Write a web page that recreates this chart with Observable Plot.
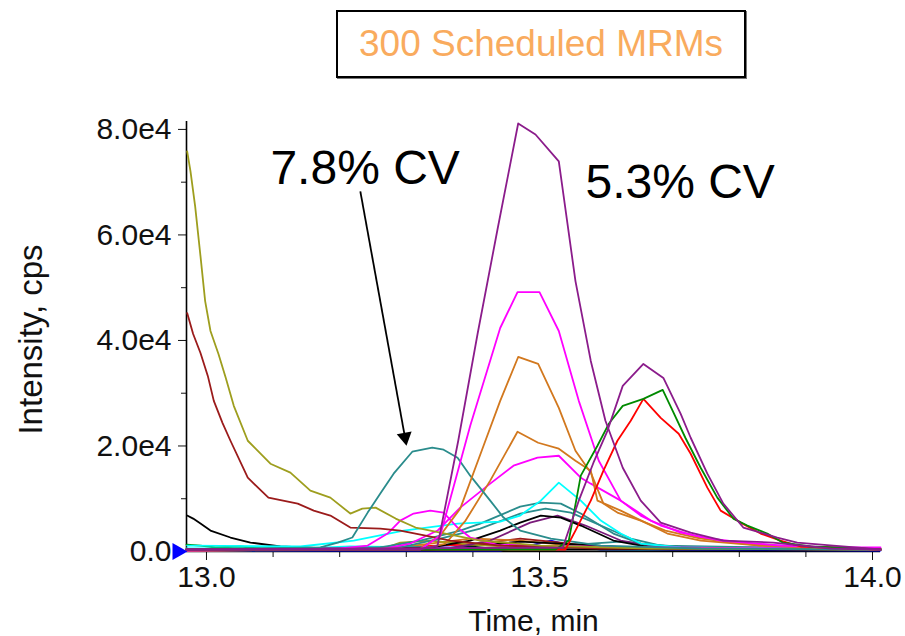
<!DOCTYPE html>
<html><head><meta charset="utf-8">
<script src="https://cdn.jsdelivr.net/npm/d3@7"></script>
<script src="https://cdn.jsdelivr.net/npm/@observablehq/plot@0.6"></script>
<style>
body{margin:0;background:#fff;}
#wrap{position:relative;width:905px;height:636px;overflow:hidden;}
#title{position:absolute;left:336px;top:10px;width:406px;height:64px;border:2px solid #000;box-shadow:1px 1px 0 #777;
  font-family:"Liberation Sans",Arial,sans-serif;font-size:37px;color:#F9AB5E;display:flex;align-items:center;justify-content:center;background:#fff;}
#chart{position:absolute;left:0;top:90px;}
</style></head>
<body><div id="wrap"><div id="title">300 Scheduled MRMs</div><div id="chart"></div></div>
<script>
// ---- data: [time (min), intensity (cps)] ----
const purpleA = [[12.970,380],[13.321,380],[13.347,1130],[13.378,20990],[13.407,41220],[13.437,61080],[13.468,81120],[13.494,79040],[13.529,73940],[13.554,51250],[13.577,36120],[13.599,24770],[13.625,15880],[13.652,9640],[13.682,5480],[13.727,3590],[13.776,2080],[13.851,1700],[13.937,570],[14.012,380]];
const magentaA = [[12.970,190],[13.321,380],[13.351,3030],[13.396,23830],[13.441,42360],[13.467,49170],[13.500,49170],[13.529,41790],[13.559,28550],[13.589,17210],[13.622,9640],[13.667,5860],[13.712,3590],[13.772,2080],[13.862,1130],[14.012,380]];
const orangeA = [[12.970,190],[13.321,570],[13.351,3030],[13.381,8130],[13.416,20040],[13.441,28550],[13.468,36870],[13.498,35550],[13.529,27230],[13.554,19100],[13.577,14940],[13.596,9080],[13.617,7370],[13.652,5860],[13.689,3970],[13.742,2460],[13.832,1130],[14.012,380]];
const orangeB = [[12.970,190],[13.321,380],[13.359,1510],[13.389,5860],[13.426,13430],[13.467,22690],[13.498,20610],[13.529,19480],[13.554,17210],[13.577,15320],[13.587,9640],[13.622,7750],[13.662,5290],[13.692,3400],[13.742,2080],[13.832,1130],[14.012,380]];
const magentaB = [[12.970,380],[13.261,380],[13.306,1510],[13.347,3970],[13.381,8320],[13.426,12860],[13.461,16260],[13.497,17780],[13.529,18150],[13.562,13990],[13.577,12860],[13.622,9640],[13.652,6810],[13.682,4920],[13.742,2650],[13.832,1320],[14.012,380]];
const tealA = [[12.970,380],[13.171,760],[13.197,1700],[13.219,2650],[13.242,7370],[13.261,10970],[13.281,14750],[13.309,18910],[13.339,19670],[13.356,19290],[13.377,17780],[13.396,14370],[13.426,9640],[13.446,6430],[13.471,3970],[13.517,2460],[13.592,1130],[13.742,570],[14.012,380]];
const oliveA = [[12.971,75830],[12.976,72050],[12.983,65430],[12.991,55970],[12.998,47460],[13.006,41790],[13.018,37440],[13.029,32900],[13.041,27610],[13.062,20990],[13.096,16640],[13.126,14940],[13.156,11540],[13.186,10210],[13.216,7190],[13.234,8130],[13.254,8320],[13.284,6240],[13.314,4540],[13.351,3590],[13.411,2080],[13.502,1130],[13.667,570],[14.012,380]];
const darkRedA = [[12.971,45190],[12.980,41220],[12.991,37630],[13.002,33280],[13.011,28550],[13.024,24390],[13.036,20990],[13.062,13990],[13.093,10210],[13.137,9080],[13.161,7750],[13.186,6810],[13.216,4540],[13.261,4350],[13.291,3970],[13.329,3030],[13.366,2080],[13.441,1130],[13.592,570],[14.012,380]];
const blackA = [[12.971,6810],[12.980,6240],[12.991,5290],[13.006,3970],[13.036,2650],[13.066,1700],[13.111,950],[13.216,380],[14.012,380]];
const purpleB = [[12.970,380],[13.535,760],[13.559,9640],[13.581,16830],[13.602,22880],[13.625,31390],[13.656,35550],[13.686,32900],[13.712,26100],[13.727,21560],[13.752,14750],[13.776,9080],[13.806,4540],[13.857,2650],[13.887,1700],[13.941,1130],[14.012,380]];
const greenA = [[12.970,380],[13.524,380],[13.544,2080],[13.562,14370],[13.587,20040],[13.604,24200],[13.625,27610],[13.656,28930],[13.685,30630],[13.700,26660],[13.719,21560],[13.742,15880],[13.767,10210],[13.791,6240],[13.812,4920],[13.842,3400],[13.865,1700],[13.907,950],[14.012,380]];
const redA = [[12.970,380],[13.539,380],[13.554,3970],[13.577,9640],[13.596,15320],[13.617,20990],[13.637,24770],[13.656,28930],[13.682,25340],[13.709,22310],[13.727,18530],[13.752,12100],[13.772,7750],[13.802,5480],[13.832,3400],[13.862,2080],[13.892,950],[14.012,380]];
const cyanA = [[12.971,1130],[13.141,950],[13.221,2080],[13.296,3970],[13.377,5290],[13.441,5670],[13.471,6810],[13.502,9640],[13.529,13050],[13.562,9640],[13.592,5860],[13.622,3400],[13.652,1510],[13.712,760],[14.012,380]];
const tealB = [[12.970,380],[13.261,760],[13.321,2080],[13.381,3970],[13.411,5290],[13.471,8510],[13.502,9270],[13.532,9080],[13.562,7190],[13.611,3400],[13.652,1510],[13.742,570],[14.012,380]];
const tealC = [[12.970,380],[13.291,760],[13.351,2460],[13.411,4350],[13.471,7190],[13.509,8130],[13.547,7370],[13.592,4920],[13.637,2460],[13.682,1130],[14.012,380]];
const blackB = [[12.970,380],[13.336,760],[13.396,2080],[13.441,3970],[13.471,5480],[13.502,6810],[13.532,6430],[13.562,4920],[13.611,2080],[13.667,760],[14.012,380]];
const purpleC = [[12.970,380],[13.366,570],[13.426,2080],[13.486,5480],[13.527,6810],[13.569,4920],[13.622,2080],[13.682,760],[14.012,380]];
const magentaC = [[12.970,380],[13.201,570],[13.242,1130],[13.272,3400],[13.291,5860],[13.311,7190],[13.336,7750],[13.356,7370],[13.377,4540],[13.396,2650],[13.441,1130],[14.012,380]];
const lowGreen = [[12.970,1320],[12.991,1130],[13.014,760],[13.051,950],[13.081,570],[13.141,380],[13.502,570],[13.547,1320],[13.592,760],[14.012,380]];
const lowBlue = [[12.970,190],[13.441,190],[13.486,1130],[13.517,2080],[13.547,1130],[13.592,380],[14.012,190]];
const lowMagenta = [[12.970,380],[13.291,570],[13.366,1130],[13.441,1510],[13.502,950],[13.592,760],[13.862,760],[14.012,760]];
const lowRed = [[12.970,380],[13.216,380],[13.321,950],[13.411,1510],[13.471,760],[14.012,380]];
const lowDarkRed = [[12.970,190],[13.351,380],[13.411,1510],[13.471,2460],[13.532,1700],[13.592,760],[14.012,380]];
const lowOrange = [[12.970,190],[13.261,380],[13.336,1510],[13.396,2460],[13.471,2080],[13.532,1320],[13.622,570],[13.862,570],[14.012,380]];
const lowTeal = [[12.970,190],[13.441,380],[13.532,1130],[13.622,1890],[13.712,760],[14.012,380]];
const lowBlack = [[12.970,190],[13.336,380],[13.396,950],[13.471,1890],[13.562,1320],[13.652,570],[14.012,380]];
const lowOlive = [[12.970,190],[13.261,380],[13.291,1700],[13.336,2080],[13.396,1320],[13.502,570],[14.012,380]];
const lowCyan = [[12.970,570],[13.141,570],[13.216,950],[13.336,760],[13.652,380],[13.742,570],[14.012,380]];

const yTicks = [0, 20000, 40000, 60000, 80000];
const yMinorTicks = [10000, 30000, 50000, 70000];
const xTicks = [13.0, 13.5, 14.0];
const xMinorTicks = [13.1, 13.2, 13.3, 13.4, 13.6, 13.7, 13.8, 13.9];
const cvLabels = [{t: 13.096, v: 69590, text: "7.8% CV"}, {t: 13.569, v: 66940, text: "5.3% CV"}];
const arrowFrom = {t: 13.231, v: 68270};
const arrowTo = {t: 13.298, v: 21670};

// ---- series list (drawn in order) ----
const series = [
  ["lowGreen", lowGreen, "#008A00"], ["lowBlue", lowBlue, "#0000FF"], ["lowMagenta", lowMagenta, "#FF00FF"],
  ["lowRed", lowRed, "#FF0000"], ["lowDarkRed", lowDarkRed, "#9B1B1B"], ["lowOrange", lowOrange, "#D2781E"],
  ["lowTeal", lowTeal, "#2A8C8C"], ["lowBlack", lowBlack, "#000000"], ["lowOlive", lowOlive, "#9E9E1E"],
  ["lowCyan", lowCyan, "#00FFFF"],
  ["blackA", blackA, "#000000"], ["purpleC", purpleC, "#7A1A7A"], ["blackB", blackB, "#000000"],
  ["tealC", tealC, "#2A8C8C"], ["tealB", tealB, "#2A8C8C"], ["cyanA", cyanA, "#00FFFF"],
  ["magentaC", magentaC, "#FF00FF"], ["magentaB", magentaB, "#FF00FF"], ["orangeB", orangeB, "#D2781E"],
  ["darkRedA", darkRedA, "#9B1B1B"], ["oliveA", oliveA, "#9E9E1E"], ["tealA", tealA, "#2A8C8C"],
  ["orangeA", orangeA, "#D2781E"], ["magentaA", magentaA, "#FF00FF"],
  ["redA", redA, "#FF0000"], ["greenA", greenA, "#008A00"], ["purpleB", purpleB, "#8B1C8B"],
  ["purpleA", purpleA, "#8B1C8B"]
];
const rows = series.flatMap(([name, data]) => data.map(([t, v]) => ({series: name, t, v})));

const axisFont = "'Liberation Sans', Arial, sans-serif";
const fmtY = d => d === 0 ? "0.0" : (d / 10000).toFixed(1) + "e4";

const chart = Plot.plot({
  width: 905, height: 546,
  marginTop: 31, marginLeft: 186, marginRight: 25, marginBottom: 85,
  style: {fontFamily: axisFont, fontSize: "30px", color: "#111", background: "#fff", overflow: "visible"},
  x: {domain: [12.97, 14.012]},
  y: {domain: [0, 81500]},
  color: {domain: series.map(s => s[0]), range: series.map(s => s[2])},
  marks: [
    Plot.axisY({ticks: yTicks, tickFormat: fmtY, tickSize: 8, tickPadding: 7, fontSize: 30, label: null}),
    Plot.axisY({ticks: yMinorTicks, tickSize: 5, text: null, label: null}),
    Plot.axisX({ticks: xTicks, tickFormat: d => d.toFixed(1), tickSize: 9, tickPadding: 5, fontSize: 30,
      label: "Time, min", labelAnchor: "center", labelOffset: 79, labelArrow: "none"}),
    Plot.axisX({ticks: xMinorTicks, tickSize: 6, text: null, label: null}),
    Plot.text(["Intensity, cps"], {frameAnchor: "left", rotate: -90, dx: -168, dy: 3, lineAnchor: "top", textAnchor: "middle",
      fontSize: 33, fontFamily: axisFont, fill: "#111"}),
    Plot.ruleX([12.97], {stroke: "#000", strokeWidth: 1.6}),
    Plot.ruleY([0], {stroke: "#000", strokeWidth: 1.6}),
    Plot.line(rows, {x: "t", y: "v", z: "series", stroke: "series", strokeWidth: 1.8}),
    Plot.dot([{t: 12.97, v: 0}], {x: "t", y: "v", symbol: "triangle", rotate: 90, r: 6.4, dx: -9, fill: "#0000FF", stroke: "none"}),
    Plot.text(cvLabels, {x: "t", y: "v", text: "text", textAnchor: "start", lineAnchor: "bottom",
      fontSize: 48, fontFamily: "'Liberation Sans', Arial, sans-serif", fill: "#000"}),
    Plot.link([{x1: arrowFrom.t, y1: arrowFrom.v, x2: arrowTo.t, y2: arrowTo.v}],
      {x1: "x1", y1: "y1", x2: "x2", y2: "y2", stroke: "#000", strokeWidth: 1.8}),
    Plot.dot([arrowTo], {x: "t", y: "v", symbol: "triangle", rotate: 169.75, r: 5.6, fill: "#000", stroke: "none"})
  ]
});
document.getElementById("chart").appendChild(chart);
</script></body></html>
